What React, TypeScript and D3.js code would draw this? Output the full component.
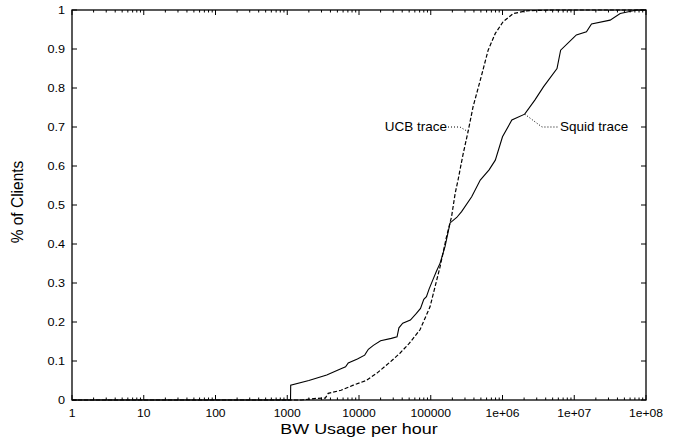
import React from "react";
import * as d3 from "d3";

const squidX = [1, 1110, 1117, 2000, 3550, 5600, 6500, 7080, 9500, 12000, 13500, 15850, 20000, 28200, 33900, 36000, 40700, 52000, 63100, 72000, 80000, 87100, 95000, 107000, 120000, 135000, 158000, 186000, 230000, 269000, 372000, 490000, 650000, 794000, 1000000, 1350000, 2040000, 2820000, 3720000, 5750000, 6460000, 9550000, 10700000, 14800000, 17400000, 31600000, 43700000, 74100000, 100000000];
const squidY = [0, 0, 0.038, 0.05, 0.064, 0.08, 0.085, 0.095, 0.105, 0.115, 0.13, 0.14, 0.152, 0.158, 0.162, 0.185, 0.197, 0.205, 0.222, 0.235, 0.258, 0.265, 0.285, 0.308, 0.33, 0.351, 0.393, 0.454, 0.468, 0.483, 0.521, 0.564, 0.59, 0.615, 0.675, 0.718, 0.733, 0.769, 0.803, 0.85, 0.897, 0.927, 0.936, 0.944, 0.964, 0.974, 0.991, 1.0, 1.0];

const ucbX = [1, 1580, 2510, 3390, 3720, 5620, 8320, 12600, 17800, 28200, 37200, 50100, 70800, 97700, 135000, 166000, 195000, 219000, 240000, 282000, 331000, 389000, 490000, 631000, 794000, 1020000, 1410000, 2190000, 5010000, 100000000];
const ucbY = [0, 0, 0.004, 0.005, 0.017, 0.025, 0.038, 0.05, 0.069, 0.1, 0.12, 0.145, 0.18, 0.239, 0.342, 0.419, 0.47, 0.53, 0.564, 0.63, 0.688, 0.752, 0.82, 0.897, 0.94, 0.97, 0.991, 0.998, 1.0, 1.0];

const xTickValues = [1, 10, 100, 1000, 10000, 100000, 1000000, 10000000, 100000000];
const xTickLabels = ["1", "10", "100", "1000", "10000", "100000", "1e+06", "1e+07", "1e+08"];
const yTickValues = [0, 0.1, 0.2, 0.3, 0.4, 0.5, 0.6, 0.7, 0.8, 0.9, 1];
const yTickLabels = ["0", "0.1", "0.2", "0.3", "0.4", "0.5", "0.6", "0.7", "0.8", "0.9", "1"];

const ucbLabel = "UCB trace";
const squidLabel = "Squid trace";
const xTitle = "BW Usage per hour";
const yTitle = "% of Clients";

export default function App() {
  const W = 675, H = 438;
  const L = 72, R = 646, T = 10, B = 400;
  const x = d3.scaleLog().domain([1, 1e8]).range([L, R]);
  const y = d3.scaleLinear().domain([0, 1]).range([B, T]);
  const line = d3.line<[number, number]>().x(d => x(d[0])).y(d => y(d[1]));
  const squid: [number, number][] = squidX.map((v, i) => [v, squidY[i]]);
  const ucb: [number, number][] = ucbX.map((v, i) => [v, ucbY[i]]);
  const minor: number[] = [];
  for (let e = 0; e < 8; e++) for (let k = 2; k <= 9; k++) minor.push(k * Math.pow(10, e));
  const font = "'Liberation Sans', Arial, Helvetica, sans-serif";
  const tickSX = 1.1;
  return (
    <svg width={W} height={H} style={{ position: "absolute", left: 0, top: 0, background: "#fff" }} fontFamily={font}>
      <rect x={0} y={0} width={W} height={H} fill="#fff" />
      {xTickValues.map((v, i) => (
        <g key={"xt" + i}>
          <line x1={x(v)} x2={x(v)} y1={B} y2={B - 5} stroke="#000" />
          <line x1={x(v)} x2={x(v)} y1={T} y2={T + 5} stroke="#000" />
          <text transform={`translate(${x(v)},417) scale(${tickSX},1)`} fontSize={11} textAnchor="middle">{xTickLabels[i]}</text>
        </g>
      ))}
      {minor.map((v, i) => (
        <g key={"xm" + i}>
          <line x1={x(v)} x2={x(v)} y1={B} y2={B - 2.5} stroke="#000" />
          <line x1={x(v)} x2={x(v)} y1={T} y2={T + 2.5} stroke="#000" />
        </g>
      ))}
      {yTickValues.map((v, i) => (
        <g key={"yt" + i}>
          <line x1={L} x2={L + 5} y1={y(v)} y2={y(v)} stroke="#000" />
          <line x1={R} x2={R - 5} y1={y(v)} y2={y(v)} stroke="#000" />
          <text transform={`translate(65,${y(v) + 4}) scale(${tickSX + 0.05},1)`} fontSize={11} textAnchor="end">{yTickLabels[i]}</text>
        </g>
      ))}
      <path d={line(ucb) || ""} fill="none" stroke="#000" strokeWidth={1.2} strokeDasharray="4,2" />
      <path d={line(squid) || ""} fill="none" stroke="#000" strokeWidth={1.1} />
      <rect x={L} y={T} width={R - L} height={B - T} fill="none" stroke="#000" strokeWidth={1.3} />
      <text transform="translate(447,131) scale(1.08,1)" fontSize={12.5} textAnchor="end">{ucbLabel}</text>
      <path d={`M448,127 L460,127 L${x(331000)},${y(0.688)}`} fill="none" stroke="#000" strokeDasharray="1,2" />
      <text transform="translate(560,131) scale(1.08,1)" fontSize={12.5} textAnchor="start">{squidLabel}</text>
      <path d={`M${x(2040000)},${y(0.733)} L542,127 L558,127`} fill="none" stroke="#000" strokeDasharray="1,2" />
      <text transform="translate(359,434) scale(1.3,1)" fontSize={13.8} textAnchor="middle">{xTitle}</text>
      <text transform={`translate(23,202) rotate(-90) scale(1,1.1)`} fontSize={15.5} textAnchor="middle">{yTitle}</text>
    </svg>
  );
}
